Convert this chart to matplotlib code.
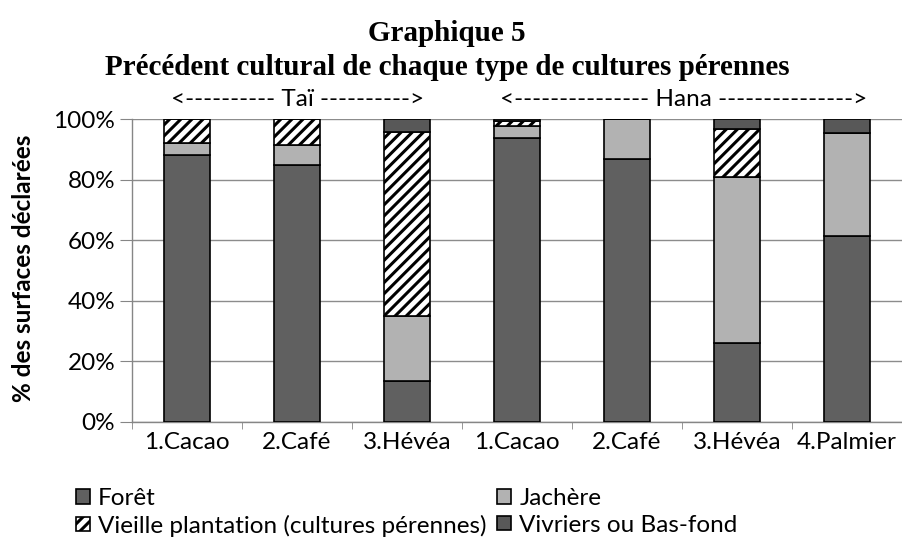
import matplotlib
matplotlib.use("Agg")
import matplotlib.pyplot as plt
import numpy as np

categories = ["1.Cacao", "2.Café", "3.Hévéa", "1.Cacao", "2.Café", "3.Hévéa", "4.Palmier"]
foret = [88.0, 84.7, 13.5, 93.7, 86.9, 26.0, 61.5]
jachere = [4.0, 6.8, 21.5, 4.0, 13.1, 54.9, 33.8]
vieille = [8.0, 8.5, 60.8, 1.8, 0.0, 15.7, 0.0]
vivriers = [0.0, 0.0, 4.2, 0.5, 0.0, 3.4, 4.7]
series_names = ["Forêt", "Jachère", "Vieille plantation (cultures pérennes)", "Vivriers ou Bas-fond"]
group_labels = ["<---------- Taï ---------->", "<--------------- Hana --------------->"]
yticks = [0, 20, 40, 60, 80, 100]

plt.rcParams['font.family'] = ['Lato', 'DejaVu Sans']
plt.rcParams['hatch.linewidth'] = 2.2

W, H = 903, 542
fig = plt.figure(figsize=(W / 100, H / 100), dpi=100)
ax = fig.add_axes([132 / W, 1 - 422 / H, 770 / W, 303 / H])

x = np.arange(len(categories))
bw = 0.41
bottom = np.zeros(len(categories))
b1 = ax.bar(x, foret, bw, bottom=bottom, color="#606060", edgecolor="black", linewidth=1.2, zorder=3)
bottom += np.array(foret)
b2 = ax.bar(x, jachere, bw, bottom=bottom, color="#b2b2b2", edgecolor="black", linewidth=1.2, zorder=3)
bottom += np.array(jachere)
b3 = ax.bar(x, vieille, bw, bottom=bottom, color="white", edgecolor="black", hatch="///", linewidth=1.2, zorder=3)
bottom += np.array(vieille)
b4 = ax.bar(x, vivriers, bw, bottom=bottom, color="#585858", edgecolor="black", linewidth=1.2, zorder=3)

fs = 17.5
ax.set_xlim(-0.5, len(categories) - 0.5)
ax.set_ylim(0, 100)
ax.set_yticks(yticks)
ax.set_yticklabels([f"{v}%" for v in yticks], fontsize=fs)
ax.set_xticks(x)
ax.set_xticklabels(categories, fontsize=fs)
ax.set_xticks(np.arange(-0.5, len(categories), 1.0), minor=True)
ax.tick_params(axis="x", which="major", length=0, pad=7)
ax.tick_params(axis="x", which="minor", length=5, color="#868686")
ax.tick_params(axis="y", length=9, color="#868686", pad=3)
ax.yaxis.grid(True, color="#8c8c8c", linewidth=1.0, zorder=0)
ax.set_axisbelow(True)
for s in ["top", "right"]:
    ax.spines[s].set_visible(False)
for s in ["left", "bottom"]:
    ax.spines[s].set_color("#868686")
    ax.spines[s].set_linewidth(1.0)

fig.text(24 / W, 1 - 268 / H, "% des surfaces déclarées", rotation=90, ha="center", va="center",
         fontsize=fs, fontweight="bold")

fig.text(447 / W, 1 - 41 / H, "Graphique 5", ha="center", va="baseline", fontsize=21,
         fontweight="bold", family=["Liberation Serif"])
fig.text(447 / W, 1 - 75 / H, "Précédent cultural de chaque type de cultures pérennes", ha="center",
         va="baseline", fontsize=21, fontweight="bold", family=["Liberation Serif"])

fig.text(298 / W, 1 - 100 / H, group_labels[0], ha="center", va="center", fontsize=fs)
fig.text(684 / W, 1 - 100 / H, group_labels[1], ha="center", va="center", fontsize=fs)

leg = fig.legend([b1, b3, b2, b4], [series_names[0], series_names[2], series_names[1], series_names[3]],
                 ncol=2, loc="upper left", bbox_to_anchor=(64 / W, 1 - 476 / H), frameon=False,
                 fontsize=fs, handlelength=0.55, handleheight=0.55, handletextpad=0.35,
                 columnspacing=0.45, labelspacing=0.22, borderpad=0)

fig.savefig("out.png", dpi=100)
